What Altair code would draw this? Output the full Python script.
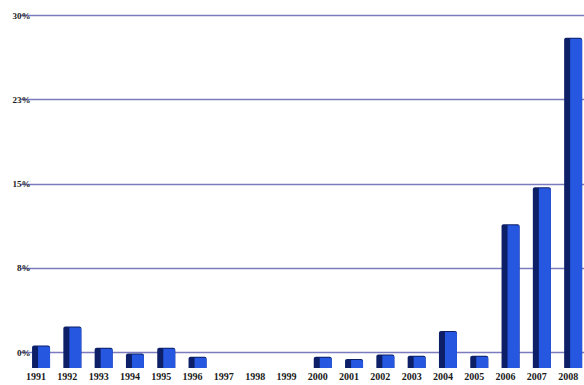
import altair as alt
import pandas as pd

years = ["1991", "1992", "1993", "1994", "1995", "1996", "1997", "1998", "1999",
         "2000", "2001", "2002", "2003", "2004", "2005", "2006", "2007", "2008"]
values = [2.0, 3.7, 1.8, 1.3, 1.8, 1.0, 0.0, 0.0, 0.0,
          1.0, 0.8, 1.2, 1.1, 3.3, 1.1, 12.8, 16.1, 29.4]
y_ticks = [0, 7.5, 15, 22.5, 30]

df = pd.DataFrame({"year": years, "value": values})

FONT = "Liberation Serif"

x_enc = alt.X(
    "year:N",
    sort=years,
    title=None,
    scale=alt.Scale(range=[-16.6, 546.8], paddingInner=0, paddingOuter=0),
    axis=alt.Axis(labelAngle=0, labelFont=FONT, labelFontWeight="bold",
                  labelFontSize=10, labelColor="#1a1a1a", labelPadding=19,
                  ticks=False, domain=False, grid=False, labelOverlap=False),
)
y_enc = alt.Y(
    "value:Q",
    title=None,
    scale=alt.Scale(domain=[0, 30], nice=False),
    axis=alt.Axis(values=y_ticks, labelExpr="round(datum.value) + '%'",
                  labelFont=FONT, labelFontWeight="bold", labelFontSize=9,
                  labelColor="#1a1a1a", labelPadding=7, ticks=False, domain=False,
                  grid=True, gridColor="#7b7bc0", gridWidth=1.4),
)

base = alt.Chart(df)
bars = base.transform_filter("datum.value > 0")

side = bars.mark_bar(size=18, color="#0d1f66", xOffset=5, yOffset=16, y2Offset=16,
                     cornerRadiusTopRight=2, cornerRadiusTopLeft=2).encode(
    x=x_enc, y=y_enc, y2=alt.datum(0))
front = bars.mark_bar(size=12, color="#2557e0", xOffset=8, yOffset=17, y2Offset=16,
                      cornerRadiusTopRight=2).encode(
    x=x_enc, y=y_enc, y2=alt.datum(0))
# keep every year on the axis, including years without a bar
axis_layer = base.mark_point(opacity=0).encode(x=x_enc, y=y_enc)

chart = alt.layer(axis_layer, side, front).properties(
    width=547, height=337,
    autosize=alt.AutoSizeParams(type="none"),
    padding={"left": 37, "top": 15, "right": 0, "bottom": 33},
    background="white",
).configure_view(stroke=None)

chart.save("out.html", embed_options={"renderer": "svg", "actions": False})
